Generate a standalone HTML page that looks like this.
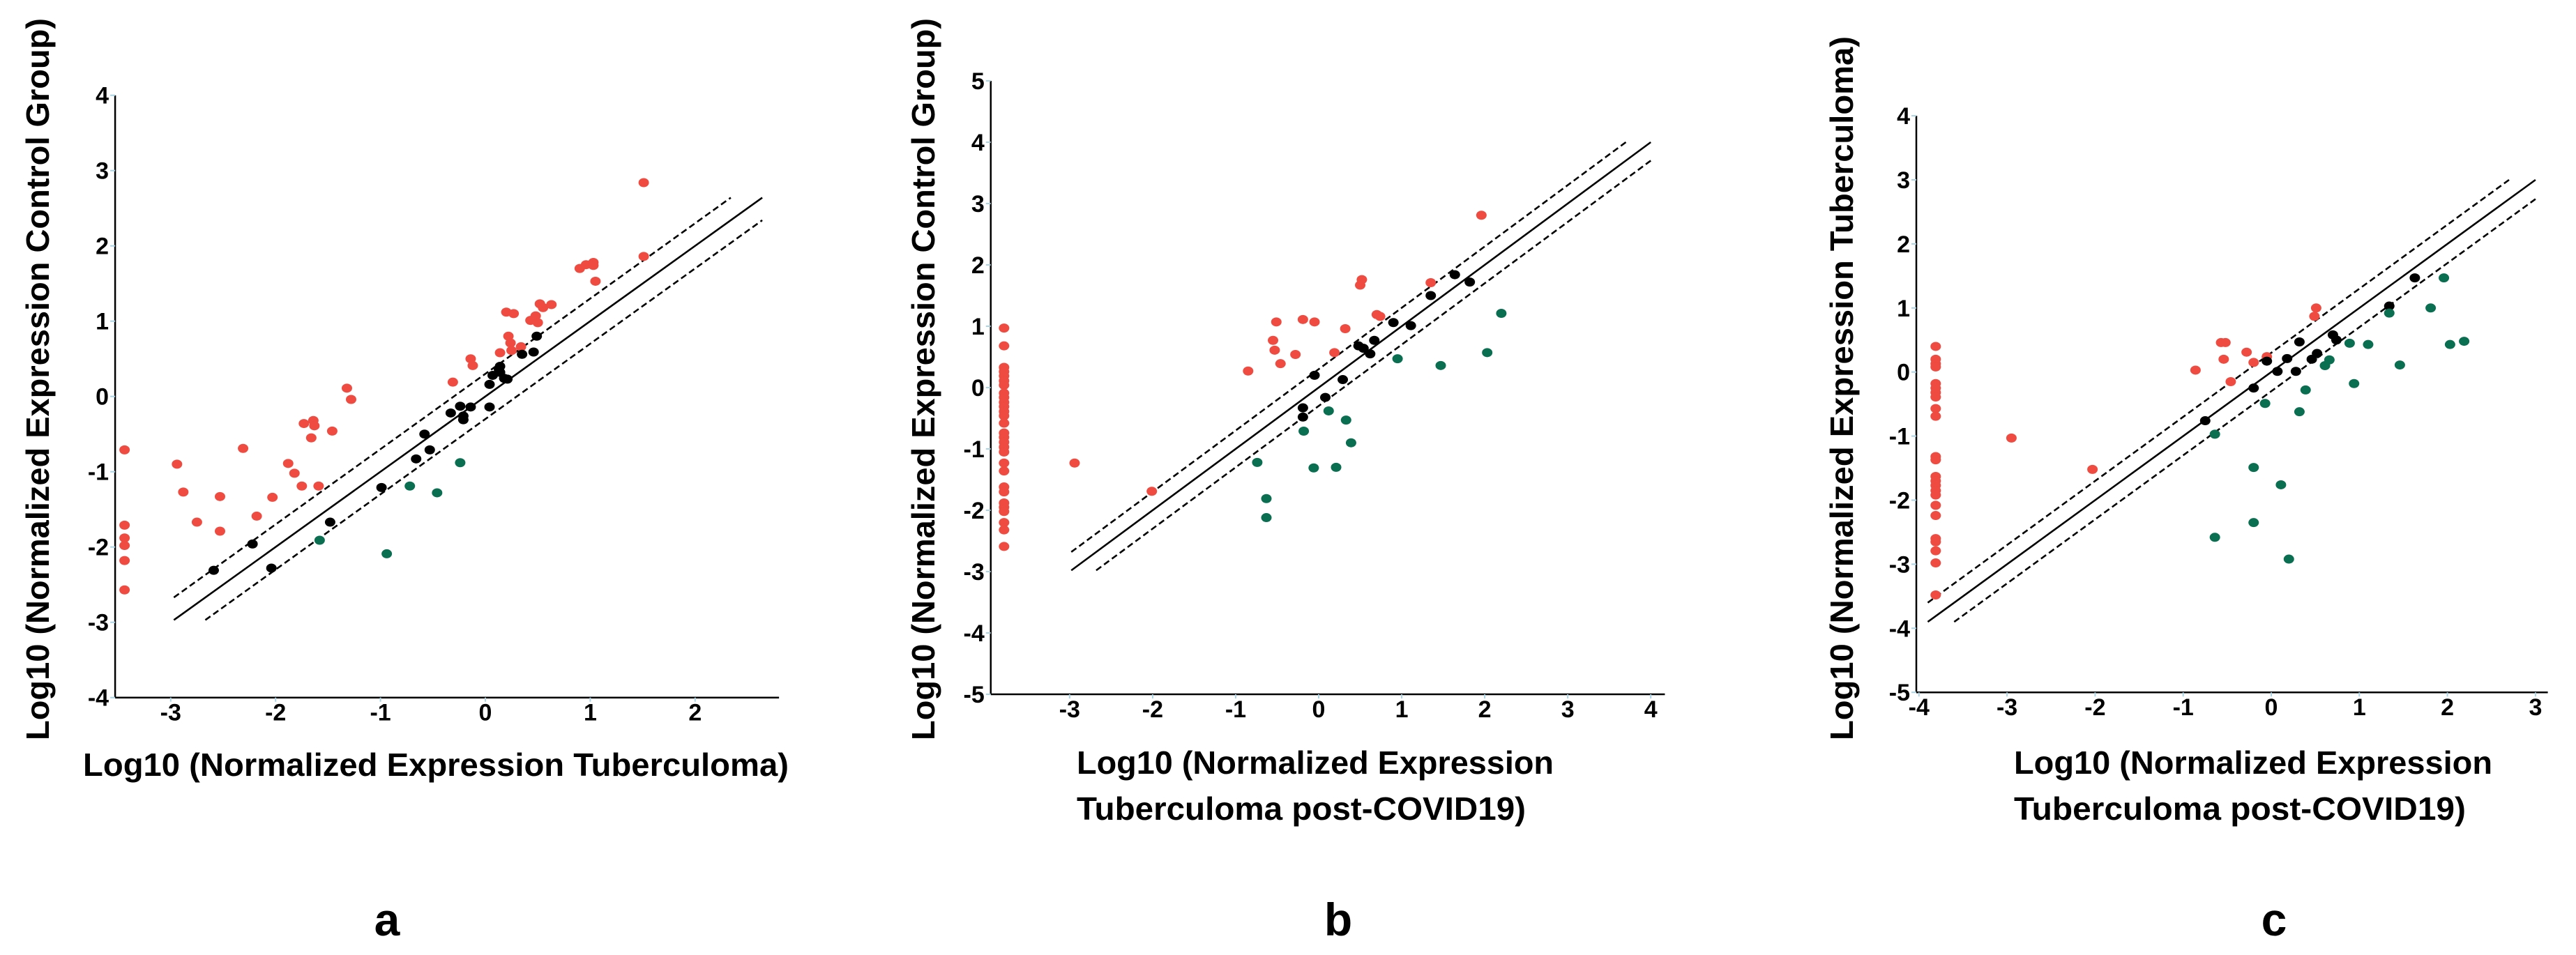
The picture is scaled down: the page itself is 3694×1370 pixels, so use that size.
<!DOCTYPE html>
<html><head><meta charset="utf-8"><style>
html,body{margin:0;padding:0;background:#fff;}
svg{display:block;}
text{font-family:"Liberation Sans",sans-serif;font-weight:bold;fill:#000;}
</style></head><body>
<svg id="fig" width="3694" height="1370" viewBox="0 0 3694 1370"></svg>
<script>
// ---- Panel A data ----
const aRedX=[-3.44,-3.44,-3.44,-3.44,-3.44,-3.44,-2.94,-2.88,-2.75,-2.53,-2.53,-2.31,-2.18,-2.03,-1.88,-1.82,-1.75,-1.73,-1.64,-1.63,-1.66,-1.59,-1.46,-1.32,-1.28,-0.31,-0.14,-0.12,0.14,0.20,0.27,0.22,0.24,0.25,0.34,0.43,0.48,0.50,0.52,0.55,0.63,0.90,0.96,1.03,1.03,1.05,1.51,1.51];
const aRedY=[-0.71,-1.71,-1.88,-1.98,-2.18,-2.57,-0.90,-1.27,-1.67,-1.33,-1.79,-0.69,-1.59,-1.34,-0.89,-1.02,-1.19,-0.36,-0.32,-0.39,-0.55,-1.19,-0.46,0.11,-0.04,0.19,0.50,0.41,0.58,1.12,1.10,0.80,0.71,0.61,0.66,1.01,1.07,0.98,1.23,1.18,1.22,1.70,1.75,1.78,1.74,1.53,2.84,1.86];
const aBlackX=[-2.59,-2.22,-2.04,-1.48,-0.99,-0.66,-0.58,-0.53,-0.33,-0.24,-0.21,-0.21,-0.14,0.04,0.04,0.07,0.13,0.14,0.14,0.18,0.21,0.35,0.46,0.49];
const aBlackY=[-2.31,-1.96,-2.28,-1.67,-1.21,-0.83,-0.50,-0.71,-0.22,-0.13,-0.31,-0.26,-0.14,-0.14,0.16,0.28,0.36,0.40,0.32,0.24,0.23,0.56,0.59,0.80];
const aGreenX=[-1.58,-0.94,-0.72,-0.46,-0.24];
const aGreenY=[-1.91,-2.09,-1.19,-1.28,-0.88];
const aXTicks=[-3,-2,-1,0,1,2];
const aYTicks=[4,3,2,1,0,-1,-2,-3,-4];

// ---- Panel B data ----
const bRedX=[-3.79,-3.79,-3.79,-3.79,-3.79,-3.79,-3.79,-3.79,-3.79,-3.79,-3.79,-3.79,-3.79,-3.79,-3.79,-3.79,-3.79,-3.79,-3.79,-3.79,-3.79,-3.79,-3.79,-3.79,-3.79,-3.79,-3.79,-3.79,-3.79,-2.94,-2.01,-0.85,-0.55,-0.53,-0.51,-0.46,-0.28,-0.19,-0.05,0.19,0.32,0.50,0.52,0.70,0.74,1.35,1.96];
const bRedY=[0.97,0.68,0.33,0.26,0.19,0.11,0.04,-0.09,-0.16,-0.24,-0.31,-0.39,-0.46,-0.58,-0.74,-0.81,-0.89,-0.97,-1.05,-1.23,-1.36,-1.62,-1.70,-1.88,-1.95,-2.02,-2.20,-2.32,-2.59,-1.23,-1.69,0.27,0.77,0.61,1.07,0.39,0.54,1.11,1.07,0.57,0.96,1.67,1.76,1.19,1.16,1.71,2.81];
const bBlackX=[-0.19,-0.19,-0.05,0.08,0.29,0.48,0.54,0.62,0.67,0.90,1.11,1.35,1.64,1.82];
const bBlackY=[-0.33,-0.48,0.20,-0.16,0.13,0.68,0.64,0.55,0.77,1.06,1.01,1.50,1.84,1.72];
const bGreenX=[-0.74,-0.63,-0.63,-0.18,-0.06,0.12,0.21,0.33,0.39,0.95,1.47,2.03,2.20];
const bGreenY=[-1.22,-1.81,-2.12,-0.71,-1.31,-0.38,-1.30,-0.53,-0.90,0.47,0.36,0.57,1.21];
const bXTicks=[-3,-2,-1,0,1,2,3,4];
const bYTicks=[5,4,3,2,1,0,-1,-2,-3,-4,-5];

// ---- Panel C data ----
const cRedX=[-3.81,-3.81,-3.81,-3.81,-3.81,-3.81,-3.81,-3.81,-3.81,-3.81,-3.81,-3.81,-3.81,-3.81,-3.81,-3.81,-3.81,-3.81,-3.81,-3.81,-3.81,-3.81,-3.81,-3.81,-2.95,-2.03,-0.86,-0.57,-0.52,-0.54,-0.46,-0.28,-0.20,-0.05,0.49,0.51];
const cRedY=[0.40,0.20,0.13,0.08,-0.18,-0.25,-0.32,-0.39,-0.57,-0.69,-1.32,-1.37,-1.63,-1.70,-1.77,-1.85,-1.92,-2.08,-2.24,-2.60,-2.65,-2.79,-2.98,-3.48,-1.03,-1.52,0.03,0.46,0.46,0.20,-0.15,0.31,0.15,0.24,0.87,1.00];
const cBlackX=[-0.75,-0.20,-0.05,0.07,0.18,0.28,0.32,0.46,0.52,0.70,0.74,1.34,1.63];
const cBlackY=[-0.76,-0.25,0.17,0.01,0.21,0.01,0.47,0.20,0.29,0.58,0.50,1.03,1.47];
const cGreenX=[-0.64,-0.64,-0.20,-0.20,-0.07,0.11,0.20,0.32,0.39,0.61,0.66,0.89,0.94,1.10,1.34,1.46,1.81,1.96,2.03,2.19];
const cGreenY=[-0.97,-2.58,-1.49,-2.35,-0.49,-1.76,-2.92,-0.62,-0.28,0.10,0.19,0.45,-0.18,0.43,0.92,0.11,1.00,1.47,0.43,0.48];
const cXTicks=[-4,-3,-2,-1,0,1,2,3];
const cYTicks=[4,3,2,1,0,-1,-2,-3,-4,-5];

const NS="http://www.w3.org/2000/svg";
const svg=document.getElementById('fig');
function mk(tag,attrs,parent){const e=document.createElementNS(NS,tag);for(const k in attrs)e.setAttribute(k,attrs[k]);(parent||svg).appendChild(e);return e;}

function panel(p){
  const g=mk('g',{});
  
  
  const sx=v=>p.x0+p.ux*v, sy=v=>p.y0-p.uy*v;
  const left=sx(p.xmin), right=sx(p.xmax), top=sy(p.ymax), bot=sy(p.ymin);
  const ya=mk('line',{x1:left,y1:top,x2:left,y2:bot,stroke:'#000','stroke-width':2.5},g);
  
  
  const xa=mk('line',{x1:left,y1:bot,x2:right,y2:bot,stroke:'#000','stroke-width':2.5},g);
  
  
  p.yTicks.forEach(t=>{
    mk('line',{x1:left-7,y1:sy(t),x2:left,y2:sy(t),stroke:'#a8d4e6','stroke-width':2},g);
    const tx=mk('text',{x:left-9,y:sy(t)+12,'font-size':34,'text-anchor':'end'},g);
    tx.textContent=String(t);
    
    
  });
  p.xTicks.forEach(t=>{
    mk('line',{x1:sx(t),y1:bot,x2:sx(t),y2:bot+6,stroke:'#a8d4e6','stroke-width':2},g);
    const tx=mk('text',{x:sx(t),y:bot+33,'font-size':34,'text-anchor':'middle'},g);
    tx.textContent=String(t);
    
    
  });
  // identity and ±0.3 lines
  const L=(a,b,off,dash,name)=>{const e=mk('line',{x1:sx(a),y1:sy(a+off),x2:sx(b),y2:sy(b+off),stroke:'#000','stroke-width':2.6},g);if(dash)e.setAttribute('stroke-dasharray','9,5');
    
    };
  L(p.l0,p.l1,0,false,'identity-line');
  L(p.l0,p.l1-0.3,0.3,true,'upper-threshold-line');
  L(p.l0+0.3,p.l1,-0.3,true,'lower-threshold-line');
  const dots=(xs,ys,col,name)=>xs.forEach((v,i)=>{const c=mk('ellipse',{cx:sx(v),cy:sy(ys[i]),rx:7.5,ry:6.5,fill:col},g);
    
    });
  dots(p.rx,p.ry,'#ef4b40','upregulated-point');
  dots(p.bx,p.by,'#000','unchanged-point');
  dots(p.gx,p.gy,'#0a6e50','downregulated-point');
  const yt=mk('text',{x:0,y:0,'font-size':46,'text-anchor':'middle',transform:`translate(${p.ytX},${p.ytY}) rotate(-90)`,textLength:p.ytLen,lengthAdjust:'spacingAndGlyphs'},g);
  yt.textContent=p.ytitle;
  
  
  p.xtitle.forEach((s,i)=>{const t=mk('text',{x:p.xtX,y:p.xtY+i*66,'font-size':46,textLength:p.xtLen[i],lengthAdjust:'spacingAndGlyphs'},g);
    t.textContent=s;
    
    });
  const lb=mk('text',{x:p.lbX,y:1342,'font-size':66,'text-anchor':'middle'},g);
  lb.textContent=p.id;
  
  
}

panel({id:'a',x0:696,ux:150.4,y0:568.7,uy:108,xmin:-3.53,xmax:2.8,ymin:-4,ymax:4,l0:-2.97,l1:2.64,
  xTicks:aXTicks,yTicks:aYTicks,rx:aRedX,ry:aRedY,bx:aBlackX,by:aBlackY,gx:aGreenX,gy:aGreenY,
  ytitle:'Log10 (Normalized Expression Control Group)',ytX:70,ytY:544,ytLen:1036,
  xtitle:['Log10 (Normalized Expression Tuberculoma)'],xtX:119,xtY:1113,xtLen:[1012],lbX:555});
panel({id:'b',x0:1891,ux:119.05,y0:556,uy:88,xmin:-3.95,xmax:4.17,ymin:-5,ymax:5,l0:-2.98,l1:4.0,
  xTicks:bXTicks,yTicks:bYTicks,rx:bRedX,ry:bRedY,bx:bBlackX,by:bBlackY,gx:bGreenX,gy:bGreenY,
  ytitle:'Log10 (Normalized Expression Control Group)',ytX:1340,ytY:544,ytLen:1036,
  xtitle:['Log10 (Normalized Expression','Tuberculoma post-COVID19)'],xtX:1544,xtY:1110,xtLen:[684,644],lbX:1919});
panel({id:'c',x0:3257,ux:126.3,y0:533.7,uy:91.9,xmin:-4.03,xmax:3.14,ymin:-5,ymax:4,l0:-3.9,l1:3.0,
  xTicks:cXTicks,yTicks:cYTicks,rx:cRedX,ry:cRedY,bx:cBlackX,by:cBlackY,gx:cGreenX,gy:cGreenY,
  ytitle:'Log10 (Normalized Expression Tuberculoma)',ytX:2657,ytY:557,ytLen:1010,
  xtitle:['Log10 (Normalized Expression','Tuberculoma post-COVID19)'],xtX:2888,xtY:1110,xtLen:[686,648],lbX:3261});
</script>
</body></html>
